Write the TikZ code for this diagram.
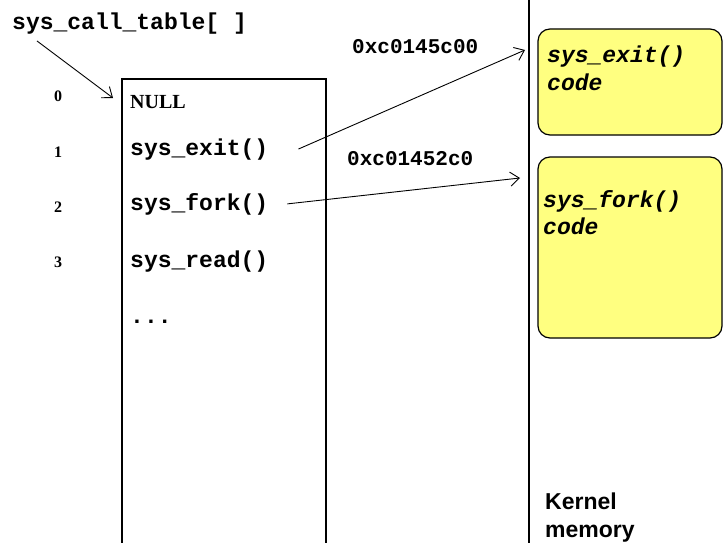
\documentclass[tikz,border=0pt]{standalone}
\usepackage{fontspec}
\setmainfont{Liberation Serif}
\setmonofont{Liberation Mono}
\setsansfont{Liberation Sans}
\usetikzlibrary{arrows.meta,positioning}
\definecolor{codeyellow}{RGB}{255,255,128}

\begin{document}
\begin{tikzpicture}[x=1pt,y=-1pt,
    code/.style={anchor=base west, inner sep=0pt, font=\fontsize{23}{26}\selectfont\ttfamily\bfseries},
    addr/.style={anchor=base west, inner sep=0pt, font=\fontsize{21}{24}\selectfont\ttfamily\bfseries},
    slot/.style={anchor=base, inner sep=0pt, font=\fontsize{16}{18}\selectfont\bfseries},
    boxtext/.style={code, font=\fontsize{23}{26}\selectfont\ttfamily\bfseries\itshape},
    codebox/.style={draw, line width=1.2pt, fill=codeyellow, rounded corners=12pt,
      inner sep=0pt, minimum width=184pt},
    ptr/.style={-{Straight Barb[length=9pt,width=14pt]}, line width=0.9pt}]
      \useasboundingbox (0,0) rectangle (723,543);
      \clip (0,0) rectangle (723,543);
      % Table label
      \node[code] (calltab) at (12,30) {sys\_call\_table[ ]};
      \coordinate (nulltip) at (113,98);
      \draw[ptr] ([xshift=25pt,yshift=-6pt]calltab.south west) -- (nulltip);
      % Table (open at the bottom)
      \draw[line width=1.2pt] (122,560) -- (122,79) -- (326,79) -- (326,560);
      % Slot numbers
      \node[slot] (n0) at (58,102) {0};
      \node[slot] (n1) at (58,157) {1};
      \node[slot] (n2) at (58,212) {2};
      \node[slot] (n3) at (58,267) {3};
      % Entries
      \node[anchor=base west, inner sep=0pt, font=\fontsize{20}{22}\selectfont\bfseries] (null) at (130,108) {NULL};
      \node[code] (exit) at (130,155) {sys\_exit()};
      \node[code] (fork) at (130,210) {sys\_fork()};
      \node[code] (read) at (130,267) {sys\_read()};
      \node[code] (dots) at (130,323) {...};
      % Kernel memory boundary
      \draw[line width=1.5pt] (529,0) -- (529,543);
      % Code blocks
      \node[codebox, minimum height=106pt] (exitbox) at (630,82) {};
      \node[codebox, minimum height=181pt] (forkbox) at (630,247.5) {};
      \node[boxtext] (exitname) at (547,63) {sys\_exit()};
      \node[boxtext] (exitcode) at (547,90) {code};
      \node[boxtext] (forkname) at (543,207) {sys\_fork()};
      \node[boxtext] (forkcode) at (543,234) {code};
      % Pointers
      \node[addr] (exitaddr) at (352,54) {0xc0145c00};
      \node[addr] (forkaddr) at (347,165) {0xc01452c0};
      \coordinate (exittip) at (525,50);
      \coordinate (forktip) at (520,178);
      \draw[ptr] ([xshift=30pt]exit.east) -- (exittip);
      \draw[ptr] ([xshift=19pt]fork.east) -- (forktip);
      % Label
      \node[anchor=base west, inner sep=0pt, font=\fontsize{23}{26}\selectfont\sffamily\bfseries] (kernel) at (545,509) {Kernel};
      \node[anchor=base west, inner sep=0pt, font=\fontsize{23}{26}\selectfont\sffamily\bfseries] (memory) at (545,537) {memory};
\end{tikzpicture}
\end{document}
